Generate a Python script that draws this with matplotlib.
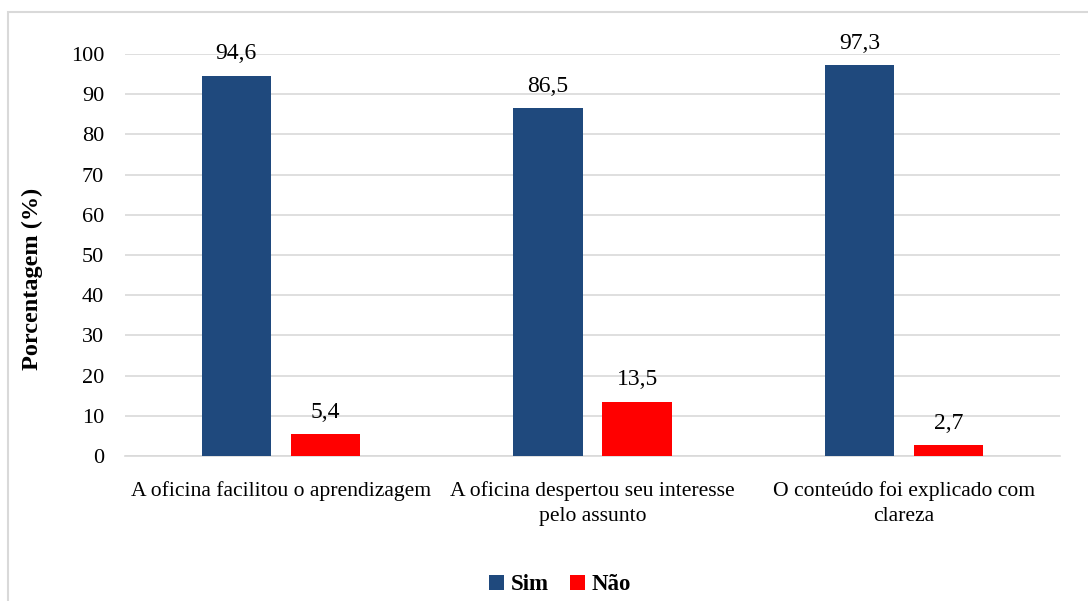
import matplotlib.pyplot as plt
from matplotlib.patches import Rectangle
import numpy as np

plt.rcParams['font.family'] = ['Liberation Serif', 'DejaVu Serif']

categorias = ['A oficina facilitou o aprendizagem',
              'A oficina despertou seu interesse\npelo assunto',
              'O conteúdo foi explicado com\nclareza']
sim = [94.6, 86.5, 97.3]
nao = [5.4, 13.5, 2.7]
yticks = [0, 10, 20, 30, 40, 50, 60, 70, 80, 90, 100]

cor_sim = '#1f497d'
cor_nao = '#ff0000'
grid = '#d9d9d9'

fig = plt.figure(figsize=(10.88, 6.01), dpi=100)
ax = fig.add_axes([125 / 1088, 1 - 456 / 601, (1060 - 125) / 1088, (456 - 54) / 601])

x = np.arange(len(categorias))
w = 0.222
off = 0.143
b1 = ax.bar(x - off, sim, w, color=cor_sim, label='Sim', zorder=3)
b2 = ax.bar(x + off, nao, w, color=cor_nao, label='Não', zorder=3)

for barras, vals in [(b1, sim), (b2, nao)]:
    for b, v in zip(barras, vals):
        ax.text(b.get_x() + b.get_width() / 2, v + 2.8, f'{v:.1f}'.replace('.', ','),
                ha='center', va='bottom', fontsize=17)

ax.set_xlim(-0.5, 2.5)
ax.set_ylim(0, 100)
ax.set_yticks(yticks)
ax.set_yticklabels([str(t) for t in yticks], fontsize=16)
ax.set_xticks(x)
ax.set_xticklabels(categorias, fontsize=15.6, va='top', linespacing=1.45)
ax.tick_params(axis='both', length=0)
ax.tick_params(axis='y', pad=15)
ax.tick_params(axis='x', pad=18)
ax.yaxis.grid(True, color=grid, linewidth=1.2, zorder=0)
for s in ['top', 'right', 'left']:
    ax.spines[s].set_visible(False)
ax.spines['bottom'].set_color(grid)
ax.spines['bottom'].set_linewidth(1.2)
ax.set_ylabel('Porcentagem (%)', fontsize=17.5, fontweight='bold')
ax.yaxis.set_label_coords((43 - 125) / (1060 - 125), (456 - 279) / (456 - 54))

leg = fig.legend(loc='center', bbox_to_anchor=(560 / 1088, 1 - 585 / 601), ncol=2,
                 frameon=False, prop={'weight': 'bold', 'size': 16.5},
                 handlelength=0.65, handleheight=0.65, handletextpad=0.3, columnspacing=0.9)

fig.patches.append(Rectangle((8 / 1088, -0.05), 1.1, 1 - 12 / 601 + 0.05,
                             transform=fig.transFigure, fill=False,
                             edgecolor=grid, linewidth=1.5))

fig.savefig('out.png', dpi=100)
